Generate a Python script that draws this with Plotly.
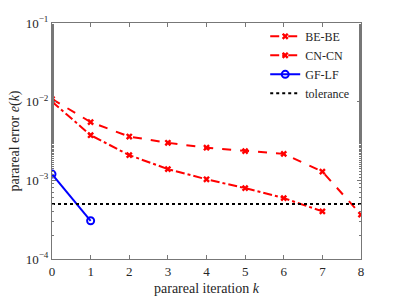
import plotly.graph_objects as go

k_be = [0, 1, 2, 3, 4, 5, 6, 7, 8]
err_be = [1.08e-2, 5.5e-3, 3.6e-3, 3.0e-3, 2.6e-3, 2.35e-3, 2.17e-3, 1.29e-3, 3.66e-4]
k_cn = [0, 1, 2, 3, 4, 5, 6, 7]
err_cn = [1.0e-2, 3.75e-3, 2.09e-3, 1.39e-3, 1.03e-3, 7.96e-4, 5.94e-4, 4.03e-4]
k_gf = [0, 1]
err_gf = [1.2e-3, 3.06e-4]
tol_k = [0, 8]
tol_val = [5.0e-4, 5.0e-4]

y_ticks = [1e-4, 1e-3, 1e-2, 1e-1]
y_ticktext = ["10<sup>−4</sup>", "10<sup>−3</sup>", "10<sup>−2</sup>", "10<sup>−1</sup>"]

font = "Liberation Serif"
fig = go.Figure()
fig.add_trace(go.Scatter(x=k_be, y=err_be, name="BE-BE", mode="lines+markers",
                         line=dict(color="red", width=2, dash="dash"),
                         marker=dict(symbol="x", size=6, color="red")))
fig.add_trace(go.Scatter(x=k_cn, y=err_cn, name="CN-CN", mode="lines+markers",
                         line=dict(color="red", width=2, dash="dashdot"),
                         marker=dict(symbol="x", size=6, color="red")))
fig.add_trace(go.Scatter(x=k_gf, y=err_gf, name="GF-LF", mode="lines+markers",
                         line=dict(color="blue", width=2),
                         marker=dict(symbol="circle-open", size=7, color="blue",
                                     line=dict(width=2))))
fig.add_trace(go.Scatter(x=tol_k, y=tol_val, name="tolerance", mode="lines",
                         line=dict(color="black", width=2, dash="dot")))

fig.update_layout(
    width=399, height=299,
    margin=dict(l=52, r=38, t=23, b=40),
    paper_bgcolor="white", plot_bgcolor="white",
    font=dict(family=font, size=13, color="#262626"),
    legend=dict(x=0.69, y=1.005, xanchor="left", yanchor="top",
                bgcolor="rgba(255,255,255,0)", font=dict(family=font, size=12),
                tracegroupgap=0, itemwidth=30),
    showlegend=True,
)
fig.add_annotation(text="parareal iteration <i>k</i>", xref="paper", yref="paper",
                   x=0.5, y=-0.125, xanchor="center", yanchor="middle",
                   showarrow=False, font=dict(size=14))
fig.update_xaxes(range=[0, 8], tickvals=list(range(9)), ticks="inside",
                 ticklen=4, showline=True, linecolor="#777", tickcolor="#777",
                 mirror="ticks", automargin=False,
                 showgrid=False, zeroline=False)
fig.update_yaxes(type="log", range=[-4, -1], tickvals=y_ticks, ticktext=y_ticktext,
                 ticks="inside", ticklen=4, showline=True, linecolor="#777",
                 tickcolor="#777", mirror="ticks", automargin=False,
                 showgrid=False, zeroline=False,
                 minor=dict(ticks="inside", ticklen=2, tickcolor="#777"),
                 title=dict(text="parareal error <i>e</i>(<i>k</i>)", standoff=2,
                            font=dict(size=14)))
fig.write_html("out.html", config={"displayModeBar": False},
               post_script="document.body.style.margin='0';")
